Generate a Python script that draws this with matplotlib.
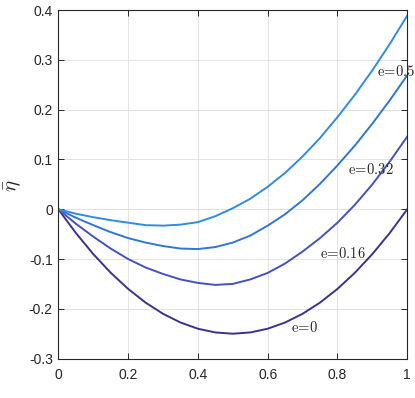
import matplotlib
matplotlib.use("Agg")
import matplotlib.pyplot as plt

plt.rcParams['font.family'] = ['Liberation Sans', 'DejaVu Sans']
plt.rcParams['mathtext.fontset'] = 'cm'
plt.rcParams['axes.unicode_minus'] = False

# values
x = [0.00, 0.05, 0.10, 0.15, 0.20, 0.25, 0.30, 0.35, 0.40, 0.45, 0.50,
     0.55, 0.60, 0.65, 0.70, 0.75, 0.80, 0.85, 0.90, 0.95, 1.00]
eta_e0 = [0.0, -0.0475, -0.09, -0.1275, -0.16, -0.1875, -0.21, -0.2275, -0.24, -0.2475, -0.25,
          -0.2475, -0.24, -0.2275, -0.21, -0.1875, -0.16, -0.1275, -0.09, -0.0475, 0.0]
eta_e016 = [0.0, -0.029, -0.055, -0.079, -0.100, -0.117, -0.130, -0.141, -0.148, -0.152, -0.150,
            -0.141, -0.128, -0.109, -0.085, -0.058, -0.027, 0.009, 0.050, 0.096, 0.146]
eta_e032 = [0.0, -0.017, -0.032, -0.046, -0.058, -0.067, -0.074, -0.079, -0.080, -0.076, -0.067,
            -0.053, -0.033, -0.010, 0.018, 0.051, 0.088, 0.128, 0.172, 0.219, 0.269]
eta_e05 = [0.0, -0.009, -0.016, -0.022, -0.027, -0.032, -0.033, -0.031, -0.026, -0.014, 0.002,
           0.021, 0.045, 0.073, 0.106, 0.143, 0.185, 0.230, 0.279, 0.332, 0.389]

curve_labels = ['e=0', 'e=0.16', 'e=0.32', 'e=0.5']
label_x = [0.667, 0.75, 0.83, 0.914]
label_y = [-0.237, -0.088, 0.079, 0.277]
colors = ['#3b3290', '#4352c0', '#2f77d2', '#2f8ddf']

xticks = [0, 0.2, 0.4, 0.6, 0.8, 1]
xtick_labels = ['0', '0.2', '0.4', '0.6', '0.8', '1']
yticks = [-0.3, -0.2, -0.1, 0, 0.1, 0.2, 0.3, 0.4]
ytick_labels = ['-0.3', '-0.2', '-0.1', '0', '0.1', '0.2', '0.3', '0.4']

fig = plt.figure(figsize=(4.15, 3.98), dpi=100)
ax = fig.add_axes([0.1405, 0.099, 0.8409, 0.8758])

for y, c in zip([eta_e0, eta_e016, eta_e032, eta_e05], colors):
    ax.plot(x, y, color=c, lw=1.4)

for lab, lx, ly in zip(curve_labels, label_x, label_y):
    txt = r'$\mathrm{' + lab.replace('=', r'\!=\!') + '}$'
    ax.text(lx, ly, txt, fontsize=10.5, ha='left', va='center', color='#262626', clip_on=False)

ax.set_xlim(0, 1)
ax.set_ylim(-0.3, 0.4)
ax.set_xticks(xticks)
ax.set_xticklabels(xtick_labels)
ax.set_yticks(yticks)
ax.set_yticklabels(ytick_labels)
ax.grid(True, color='#e3e3e3', lw=0.7)
ax.set_axisbelow(True)
ax.tick_params(direction='in', length=4, width=0.7, colors='#262626', labelsize=10,
               top=True, right=True)
ax.tick_params(axis='x', pad=7)
ax.tick_params(axis='y', pad=4)
for s in ax.spines.values():
    s.set_color('#262626')
    s.set_linewidth(0.8)

fig.text(13 / 415, 1 - 186 / 398, r'$\bar{\eta}$', fontsize=15, color='#262626',
         rotation=90, ha='center', va='center')

fig.savefig('out.png', dpi=100)
